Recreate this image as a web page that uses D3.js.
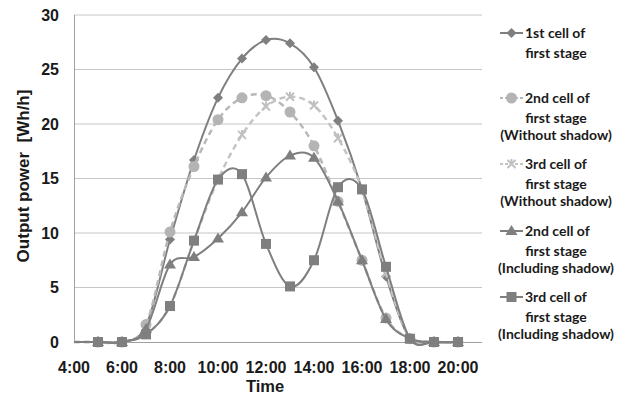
<!DOCTYPE html>
<html>
<head>
<meta charset="utf-8">
<script src="https://cdn.jsdelivr.net/npm/d3@7"></script>
<style>
  html, body { margin: 0; padding: 0; background: #fff; }
  svg { display: block; }
</style>
</head>
<body>
<svg id="chart" width="624" height="394"></svg>
<script>
// ---- data ----
const hours = [4,5,6,7,8,9,10,11,12,13,14,15,16,17,18,19,20];
const tickHours = [4,6,8,10,12,14,16,18,20];
const tickLabels = ["4:00","6:00","8:00","10:00","12:00","14:00","16:00","18:00","20:00"];
const yTicks = [0,5,10,15,20,25,30];

const cell1 =          [0,0,0,1.5,9.4,16.7,22.4,26.0,27.7,27.4,25.2,20.3,14.0,6.0,0.3,0,0];
const cell2NoShadow =  [0,0,0,1.6,10.1,16.1,20.4,22.4,22.6,21.1,18.0,12.9,7.5,2.2,0.3,0,0];
const cell3NoShadow =  [0,0,0,0.7,3.3,9.3,14.9,19.0,21.6,22.5,21.7,18.7,14.0,6.3,0.3,0,0];
const cell2Shadow =    [0,0,0,1.2,7.1,7.8,9.5,11.9,15.1,17.1,16.9,12.9,7.5,2.1,0.3,0,0];
const cell3Shadow =    [0,0,0,0.7,3.3,9.3,14.9,15.4,9.0,5.1,7.5,14.2,14.0,6.9,0.3,0,0];

const seriesNames = [
  ["1st cell of","first stage"],
  ["2nd cell of","first stage","(Without shadow)"],
  ["3rd cell of","first stage","(Without shadow)"],
  ["2nd cell of","first stage","(Including shadow)"],
  ["3rd cell of","first stage","(Including shadow)"]
];

// ---- styles ----
const styles = [
  {values: cell1,         color:"#7f7f7f", mcolor:"#7f7f7f", dash:null,  marker:"diamond"},
  {values: cell2NoShadow, color:"#b8b8b8", mcolor:"#b4b4b4", dash:"6,4", marker:"circle"},
  {values: cell3NoShadow, color:"#c4c4c4", mcolor:"#c0c0c0", dash:"6,4", marker:"star"},
  {values: cell2Shadow,   color:"#7f7f7f", mcolor:"#7f7f7f", dash:null,  marker:"triangle"},
  {values: cell3Shadow,   color:"#7f7f7f", mcolor:"#7f7f7f", dash:null,  marker:"square"}
];

const svg = d3.select("#chart");
const plot = {left:74, right:482, top:15, bottom:342};
const x = d3.scaleLinear().domain([4,21]).range([plot.left, plot.right]);
const y = d3.scaleLinear().domain([0,30]).range([plot.bottom, plot.top]);

// gridlines
svg.append("g").selectAll("line").data(yTicks.filter(d => d > 0)).join("line")
  .attr("x1", plot.left).attr("x2", plot.right)
  .attr("y1", d => y(d)).attr("y2", d => y(d))
  .attr("stroke", "#c6c6c6").attr("stroke-width", 1);

// axes lines
svg.append("line").attr("x1", plot.left + 0.5).attr("x2", plot.left + 0.5)
  .attr("y1", plot.top).attr("y2", plot.bottom).attr("stroke", "#a0a0a0");
svg.append("line").attr("x1", plot.left).attr("x2", plot.right)
  .attr("y1", plot.bottom + 0.5).attr("y2", plot.bottom + 0.5).attr("stroke", "#a0a0a0");

// y tick labels
svg.append("g").selectAll("text").data(yTicks).join("text")
  .attr("x", 59).attr("y", d => y(d)).attr("dy", "0.36em")
  .attr("text-anchor", "end")
  .attr("font-family", "Liberation Sans, Arial, sans-serif")
  .attr("font-weight", "bold").attr("font-size", 16).attr("fill", "#1a1a1a")
  .text(d => d);

// x tick labels
svg.append("g").selectAll("text").data(tickHours).join("text")
  .attr("x", d => x(d)).attr("y", 373)
  .attr("text-anchor", "middle")
  .attr("font-family", "Liberation Sans, Arial, sans-serif")
  .attr("font-weight", "bold").attr("font-size", 16).attr("fill", "#1a1a1a")
  .text((d,i) => tickLabels[i]);

// axis titles
svg.append("text").attr("x", 265).attr("y", 392).attr("text-anchor", "middle")
  .attr("font-family", "Liberation Sans, Arial, sans-serif")
  .attr("font-weight", "bold").attr("font-size", 16.5).attr("fill", "#1a1a1a")
  .text("Time");
svg.append("text").attr("transform", "translate(29,176) rotate(-90)")
  .attr("text-anchor", "middle")
  .attr("font-family", "Liberation Sans, Arial, sans-serif")
  .attr("font-weight", "bold").attr("font-size", 17).attr("fill", "#1a1a1a")
  .attr("xml:space", "preserve")
  .text("Output power  [Wh/h]");

// marker drawing
function drawMarker(g, type, cx, cy, color) {
  if (type === "diamond") {
    g.append("path").attr("d", `M${cx},${cy-5}L${cx+5},${cy}L${cx},${cy+5}L${cx-5},${cy}Z`).attr("fill", color);
  } else if (type === "circle") {
    g.append("circle").attr("cx", cx).attr("cy", cy).attr("r", 5.5).attr("fill", color);
  } else if (type === "star") {
    g.append("path").attr("d", `M${cx-4},${cy-4}L${cx+4},${cy+4}M${cx+4},${cy-4}L${cx-4},${cy+4}M${cx},${cy-5}L${cx},${cy+1}`)
      .attr("stroke", color).attr("stroke-width", 2).attr("fill", "none");
  } else if (type === "triangle") {
    g.append("path").attr("d", `M${cx},${cy-6}L${cx+6},${cy+4}L${cx-6},${cy+4}Z`).attr("fill", color);
  } else if (type === "square") {
    g.append("rect").attr("x", cx-5).attr("y", cy-5).attr("width", 10).attr("height", 10).attr("fill", color);
  }
}

const line = d3.line().x(d => x(d.h)).y(d => y(d.v)).curve(d3.curveCardinal.tension(0));

styles.forEach((s) => {
  const pts = hours.map((h,i) => ({h, v: s.values[i]}));
  const g = svg.append("g");
  g.append("path").datum(pts).attr("d", line)
    .attr("fill", "none").attr("stroke", s.color)
    .attr("stroke-width", s.dash ? 2.5 : 2)
    .attr("stroke-dasharray", s.dash);
  pts.filter(p => p.h >= 5).forEach(p => drawMarker(g, s.marker, x(p.h), y(p.v), s.mcolor));
});

// legend
const legendY = [33, 98, 164, 231, 297];
const lg = svg.append("g");
styles.forEach((s, i) => {
  const ly = legendY[i];
  lg.append("line").attr("x1", 500).attr("x2", 523).attr("y1", ly).attr("y2", ly)
    .attr("stroke", s.color).attr("stroke-width", 2).attr("stroke-dasharray", s.dash ? "3,2" : null);
  drawMarker(lg, s.marker, 511.5, ly, s.mcolor);
  const names = seriesNames[i];
  names.forEach((t, j) => {
    const ty = j === 0 ? ly : (j === 1 ? ly + 20 : ly + 37);
    lg.append("text")
      .attr("x", j === 0 ? 525 : 556).attr("y", ty).attr("dy", "0.35em")
      .attr("text-anchor", j === 0 ? "start" : "middle")
      .attr("font-family", "Lato, 'Open Sans', sans-serif")
      .attr("font-weight", "bold").attr("font-size", 14).attr("fill", "#1a1a1a")
      .text(t);
  });
});
</script>
</body>
</html>
